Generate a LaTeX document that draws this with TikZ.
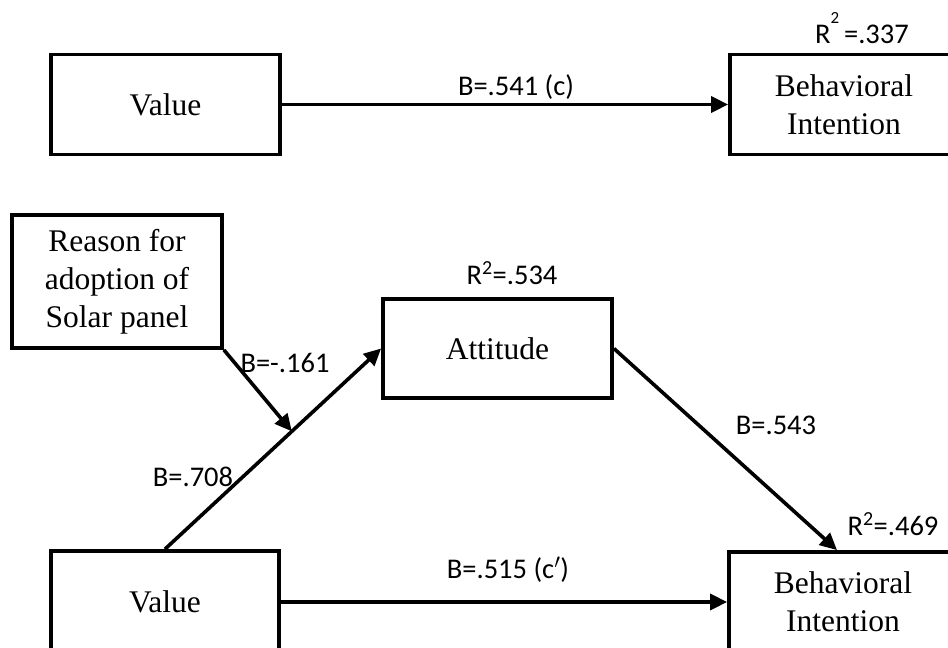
\documentclass[tikz,border=0pt]{standalone}
\usepackage{fontspec}
\setmainfont{Liberation Serif}
\newfontfamily\calfont{Carlito}
\usetikzlibrary{arrows.meta,calc}
\tikzset{
  box/.style={draw=black, line width=3.8pt, rectangle, align=center, inner sep=0pt,
    font=\fontsize{31.5}{38}\selectfont},
  conn/.style={line width=3.6pt, -{Triangle[length=17pt,width=16pt]}},
  lbl/.style={inner sep=0pt, font=\calfont\fontsize{28.5}{32}\selectfont, anchor=base}
}
\begin{document}
\begin{tikzpicture}[x=1pt,y=-1pt]
\clip (0,0) rectangle (948,648);
\fill[white] (0,0) rectangle (948,648);
% top model
\node[box, minimum width=229pt, minimum height=100pt] (v1) at (165.5,104.5) {Value};
\node[box, minimum width=228pt, minimum height=100pt] (bi1) at (844,104.5) {Behavioral\\Intention};
\draw[conn] (v1.east) -- (bi1.west);
\node[lbl] (l1) at (516,95) {B=.541 (c)};
\node[lbl] (r1) at (862,43) {R\raisebox{0.7em}{\fontsize{17}{17}\selectfont 2}\,=.337};
% bottom model
\node[box, minimum width=210pt, minimum height=133pt] (rs) at (117,281.5) {Reason for\\adoption of\\Solar panel};
\node[box, minimum width=229pt, minimum height=99pt] (att) at (497.5,348.5) {Attitude};
\node[box, minimum width=228pt, minimum height=102pt] (v2) at (165,602) {Value};
\node[box, minimum width=228pt, minimum height=100pt] (bi2) at (843,602) {Behavioral\\Intention};
\coordinate (m) at ($(v2.north)!0.587!(att.west)$);
\draw[line width=3.6pt] (v2.north) -- (m);
\draw[conn] (m) -- (att.west);
\draw[conn] (rs.south east) -- (m);
\draw[conn] (att.east) -- ($(bi2.north)+(-6,0)$);
\draw[conn] (v2.east) -- (bi2.west);
\node[lbl] (l2) at (285,372) {B=-.161};
\node[lbl] (l3) at (193,486) {B=.708};
\node[lbl] (l4) at (776,434) {B=.543};
\node[lbl] (l5) at (508,578) {B=.515 (c$^{\prime}$)};
\node[lbl] (r2) at (512,284) {R\textsuperscript{2}=.534};
\node[lbl] (r3) at (893,535) {R\textsuperscript{2}=.469};
\end{tikzpicture}
\end{document}
